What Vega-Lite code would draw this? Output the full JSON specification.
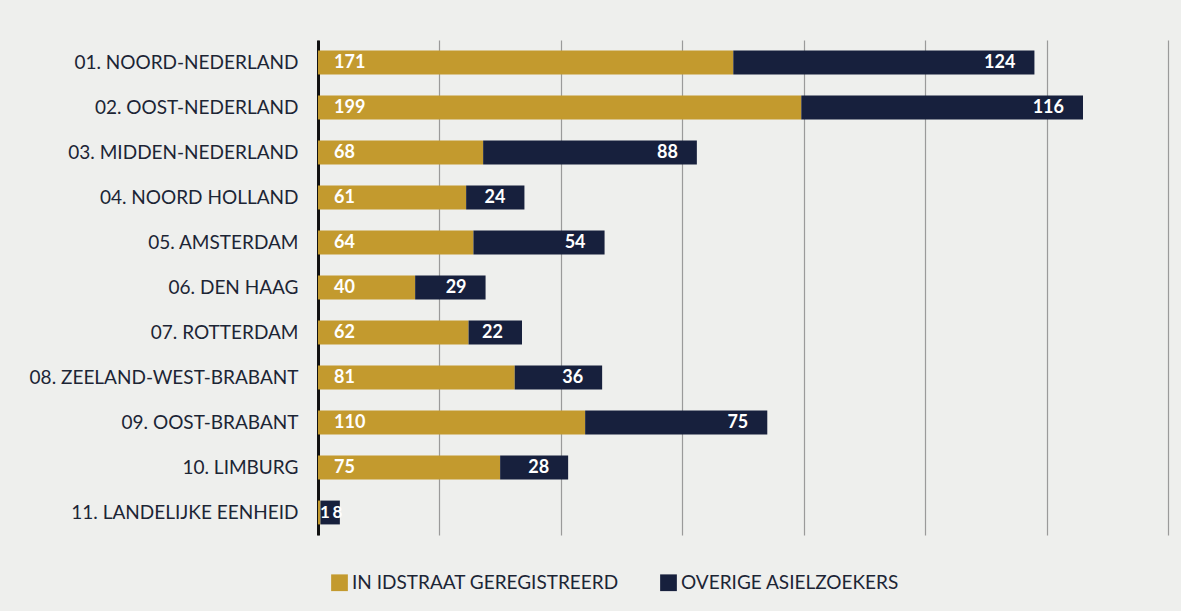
{
  "$schema": "https://vega.github.io/schema/vega-lite/v6.json",
  "autosize": {"type": "none"},
  "width": 850,
  "height": 495,
  "padding": {"left": 318, "top": 40, "right": 13, "bottom": 76},
  "background": "#eeefed",
  "data": {
    "values": [
      {"region": "01. NOORD-NEDERLAND", "idstraat": 171, "overige": 124},
      {"region": "02. OOST-NEDERLAND", "idstraat": 199, "overige": 116},
      {"region": "03. MIDDEN-NEDERLAND", "idstraat": 68, "overige": 88},
      {"region": "04. NOORD HOLLAND", "idstraat": 61, "overige": 24},
      {"region": "05. AMSTERDAM", "idstraat": 64, "overige": 54},
      {"region": "06. DEN HAAG", "idstraat": 40, "overige": 29},
      {"region": "07. ROTTERDAM", "idstraat": 62, "overige": 22},
      {"region": "08. ZEELAND-WEST-BRABANT", "idstraat": 81, "overige": 36},
      {"region": "09. OOST-BRABANT", "idstraat": 110, "overige": 75},
      {"region": "10. LIMBURG", "idstraat": 75, "overige": 28},
      {"region": "11. LANDELIJKE EENHEID", "idstraat": 1, "overige": 8}
    ]
  },
  "encoding": {
    "y": {
      "field": "region",
      "type": "nominal",
      "sort": null,
      "title": null,
      "scale": {"paddingInner": 0.47, "paddingOuter": 0.235},
      "axis": {
        "domain": true,
        "domainColor": "#111111",
        "domainWidth": 3,
        "ticks": false,
        "labelPadding": 20,
        "labelFont": "Lato",
        "labelFontSize": 19,
        "labelColor": "#1c2535",
        "labelLimit": 400
      }
    }
  },
  "layer": [
    {
      "transform": [
        {"fold": ["idstraat", "overige"], "as": ["serie", "waarde"]},
        {"calculate": "datum.serie === 'idstraat' ? 'IN IDSTRAAT GEREGISTREERD' : 'OVERIGE ASIELZOEKERS'", "as": "serienaam"}
      ],
      "mark": {"type": "bar"},
      "encoding": {
        "x": {
          "field": "waarde",
          "type": "quantitative",
          "stack": "zero",
          "scale": {"domain": [0, 350], "nice": false},
          "title": null,
          "axis": {
            "values": [0, 50, 100, 150, 200, 250, 300, 350],
            "labels": false,
            "ticks": false,
            "domain": false,
            "grid": true,
            "gridColor": "#9a9a9a",
            "gridWidth": 1.2
          }
        },
        "color": {
          "field": "serienaam",
          "type": "nominal",
          "sort": ["IN IDSTRAAT GEREGISTREERD", "OVERIGE ASIELZOEKERS"],
          "scale": {"range": ["#c39a2e", "#17203d"]},
          "legend": {
            "title": null,
            "orient": "none",
            "legendX": 12,
            "legendY": 533,
            "direction": "horizontal",
            "symbolType": "square",
            "symbolSize": 280,
            "symbolStrokeWidth": 0,
            "labelFont": "Lato",
            "labelFontSize": 19,
            "labelColor": "#1c2535",
            "labelOffset": 3,
            "columnPadding": 40,
            "labelLimit": 400
          }
        },
        "order": {"field": "serie"}
      }
    },
    {
      "transform": [{"filter": "datum.idstraat > 5"}],
      "mark": {"type": "text", "align": "left", "dx": 16, "color": "white", "font": "Lato", "fontSize": 18, "fontWeight": "bold"},
      "encoding": {
        "x": {"datum": 0, "type": "quantitative"},
        "text": {"field": "idstraat", "type": "quantitative"}
      }
    },
    {
      "transform": [{"filter": "datum.idstraat > 5"}, {"calculate": "datum.idstraat + datum.overige", "as": "totaal"}],
      "mark": {"type": "text", "align": "right", "dx": -19, "color": "white", "font": "Lato", "fontSize": 18, "fontWeight": "bold"},
      "encoding": {
        "x": {"field": "totaal", "type": "quantitative"},
        "text": {"field": "overige", "type": "quantitative"}
      }
    },
    {
      "transform": [{"filter": "datum.idstraat <= 5"}],
      "mark": {"type": "text", "align": "left", "dx": 2, "color": "white", "font": "Lato", "fontSize": 17, "fontWeight": "bold"},
      "encoding": {
        "x": {"datum": 0, "type": "quantitative"},
        "text": {"field": "idstraat", "type": "quantitative"}
      }
    },
    {
      "transform": [{"filter": "datum.idstraat <= 5"}],
      "mark": {"type": "text", "align": "left", "dx": 12, "color": "white", "font": "Lato", "fontSize": 17, "fontWeight": "bold"},
      "encoding": {
        "x": {"field": "idstraat", "type": "quantitative"},
        "text": {"field": "overige", "type": "quantitative"}
      }
    }
  ],
  "config": {"view": {"stroke": null}}
}
